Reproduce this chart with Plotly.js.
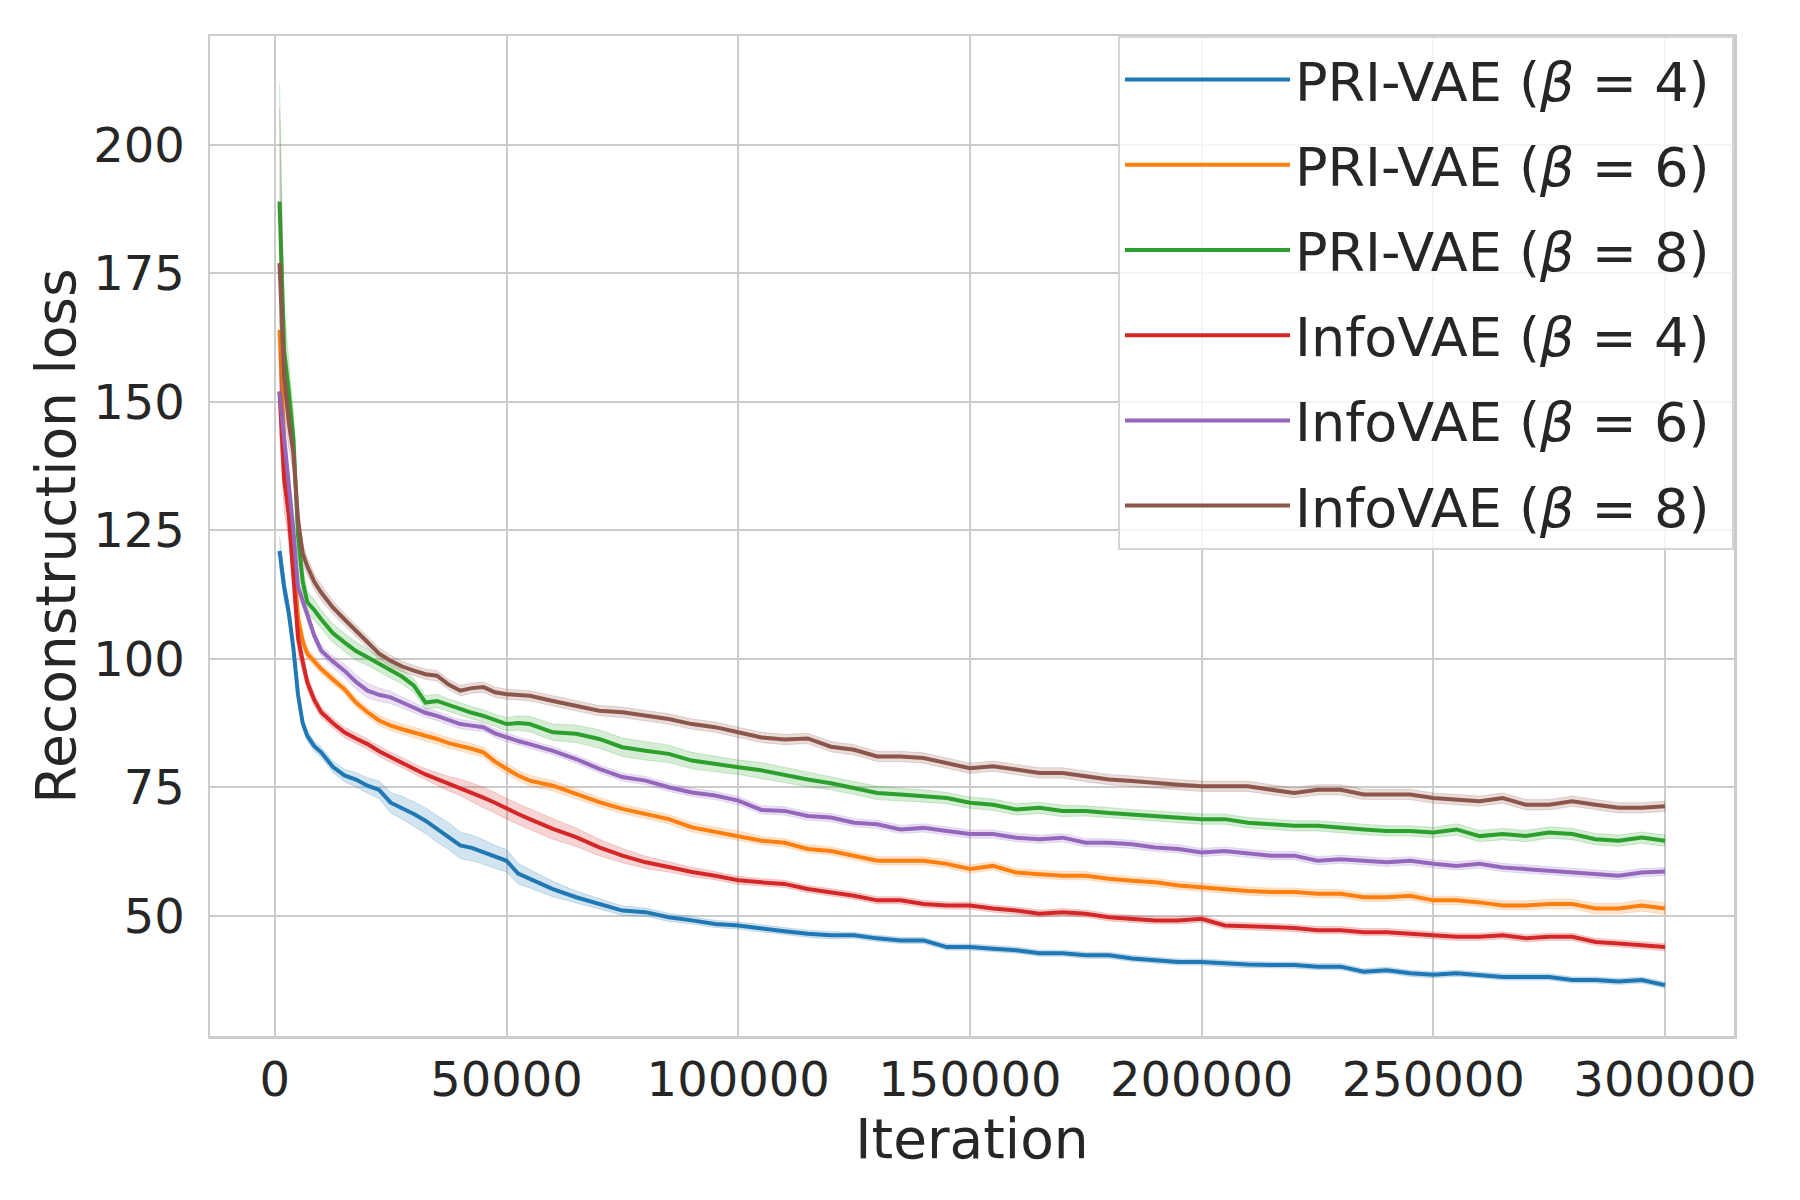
<!DOCTYPE html>
<html>
<head>
<meta charset="utf-8">
<script src="https://cdn.plot.ly/plotly-3.0.1.min.js"></script>
<style>
  html, body { margin: 0; padding: 0; background: #ffffff; }
  #chart { width: 1800px; height: 1200px; }
</style>
</head>
<body>
<div id="chart"></div>
<script>
// Iterations (x values)
const iterations = [1000, 2000, 3000, 4000, 5000, 6000, 7000, 8500, 10000, 12500, 15000, 17500, 20000, 22500, 25000, 27500, 30000, 32500, 35000, 37500, 40000, 42500, 45000, 47500, 50000, 52500,
  55000, 60000, 65000, 70000, 75000, 80000, 85000, 90000, 95000, 100000,
  105000, 110000, 115000, 120000, 125000, 130000, 135000, 140000, 145000, 150000,
  155000, 160000, 165000, 170000, 175000, 180000, 185000, 190000, 195000, 200000,
  205000, 210000, 215000, 220000, 225000, 230000, 235000, 240000, 245000, 250000,
  255000, 260000, 265000, 270000, 275000, 280000, 285000, 290000, 295000, 300000];

// Mean reconstruction loss per series
const priVae4 = [121, 114, 109, 102, 93, 87.5, 85, 83, 81.8, 79, 77.3, 76.5, 75.3, 74.5, 72, 71, 69.8, 68.5, 66.9, 65.5, 63.7, 63.2, 62.4, 61.5, 60.7, 58.2,
  57.2, 55.2, 53.6, 52.3, 51, 50.7, 49.7, 49.1, 48.4, 48.1,
  47.5, 47, 46.5, 46.2, 46.2, 45.6, 45.2, 45.2, 43.9, 43.9,
  43.6, 43.3, 42.7, 42.7, 42.3, 42.3, 41.7, 41.4, 41, 41,
  40.7, 40.5, 40.4, 40.4, 40.1, 40.1, 39.1, 39.4, 38.8, 38.5,
  38.8, 38.5, 38.1, 38.1, 38.1, 37.5, 37.5, 37.2, 37.5, 36.5];
const priVae6 = [164, 142, 132, 119, 108, 103.5, 101, 99.5, 98, 96, 94.1, 91.5, 89.6, 88, 87, 86.3, 85.7, 85, 84.4, 83.6, 83.1, 82.5, 81.8, 80, 78.6, 77.3,
  76.3, 75.3, 73.7, 72.1, 70.8, 69.8, 68.8, 67.2, 66.3, 65.6,
  64.6, 64.2, 63, 62.6, 61.7, 60.7, 60.7, 60.7, 60.1, 59.1,
  59.7, 58.4, 58.1, 57.8, 57.8, 57.2, 56.8, 56.5, 55.9, 55.5,
  55.2, 54.8, 54.6, 54.6, 54.3, 54.3, 53.6, 53.6, 53.9, 53,
  53, 52.6, 52, 52, 52.3, 52.3, 51.4, 51.4, 52, 51.4];
const priVae8 = [189, 160, 152, 143, 124, 115, 111, 109.5, 107.7, 105, 103.2, 101.5, 100.3, 99, 97.7, 96.5, 94.8, 91.5, 91.8, 91, 90.2, 89.5, 88.9, 88, 87.3, 87.5,
  87.3, 85.7, 85.4, 84.4, 82.8, 82.1, 81.5, 80.2, 79.5, 78.9,
  78.3, 77.4, 76.5, 75.8, 74.9, 73.9, 73.6, 73.3, 72.9, 72,
  71.6, 70.7, 71, 70.4, 70.4, 70, 69.7, 69.4, 69.1, 68.8,
  68.8, 68.1, 67.8, 67.5, 67.5, 67.1, 66.8, 66.5, 66.5, 66.2,
  66.8, 65.5, 65.9, 65.5, 66.2, 65.9, 64.9, 64.6, 65.2, 64.6];
const infoVae4 = [152, 135, 128, 117, 104, 99.5, 95.4, 92, 89.6, 87.5, 85.7, 84.5, 83.4, 82, 80.8, 79.8, 78.6, 77.5, 76.6, 75.7, 75, 74, 73, 72, 70.8, 69.8,
  68.8, 66.9, 65.3, 63.3, 61.7, 60.4, 59.5, 58.5, 57.8, 56.9,
  56.5, 56.2, 55.2, 54.6, 53.9, 53, 53, 52.3, 52, 52,
  51.4, 51, 50.4, 50.7, 50.4, 49.7, 49.4, 49.1, 49.1, 49.4,
  48.1, 48, 47.8, 47.6, 47.2, 47.2, 46.8, 46.8, 46.5, 46.2,
  45.9, 45.9, 46.2, 45.6, 45.9, 45.9, 44.9, 44.6, 44.3, 43.9];
const infoVae6 = [152, 143, 135, 125, 114, 111, 108.6, 104.5, 101.6, 99.5, 97.7, 95.5, 93.8, 93, 92.5, 91.5, 90.5, 89.5, 88.9, 88, 87.3, 87, 86.7, 85.5, 84.7, 84,
  83.4, 82.1, 80.5, 78.6, 77, 76.3, 75, 74, 73.4, 72.4,
  70.6, 70.4, 69.4, 69.1, 68.1, 67.8, 66.8, 67.1, 66.5, 65.9,
  65.9, 65.2, 64.9, 65.2, 64.2, 64.2, 63.9, 63.3, 63, 62.3,
  62.6, 62.1, 61.7, 61.7, 60.7, 61, 60.7, 60.4, 60.7, 60.1,
  59.7, 60.1, 59.4, 59.1, 58.8, 58.4, 58.1, 57.8, 58.4, 58.6];
const infoVae8 = [177, 155, 146, 140, 127, 120.5, 118, 115, 112.9, 110, 107.7, 105.5, 103.2, 101, 99.6, 98.5, 97.7, 97, 96.7, 95, 93.8, 94.3, 94.5, 93.5, 93.1, 93,
  92.8, 91.8, 90.9, 89.9, 89.6, 88.9, 88.3, 87.3, 86.7, 85.7,
  84.7, 84.3, 84.5, 82.9, 82.3, 81, 81, 80.7, 79.7, 78.7,
  79.1, 78.5, 77.8, 77.8, 77.1, 76.5, 76.2, 75.8, 75.5, 75.2,
  75.2, 75.2, 74.5, 73.9, 74.5, 74.5, 73.6, 73.6, 73.6, 72.9,
  72.6, 72.3, 72.9, 71.6, 71.6, 72.3, 71.6, 71, 71, 71.3];

// Half-width of the shaded band (spread across runs)
const priVae4Spread = [3, 2.5, 2, 1.5, 1.2, 1, 1, 1, 1, 1.1, 1.2, 1.4, 1.5, 1.7, 2, 2.2, 2.4, 2.5, 2.6, 2.6, 2.6, 2.5, 2.4, 2.2, 2.2, 2,
  1.8, 1.5, 1.2, 1, 0.9, 0.8, 0.8, 0.7, 0.7, 0.7,
  0.7, 0.7, 0.7, 0.7, 0.6, 0.6, 0.6, 0.6, 0.6, 0.6,
  0.6, 0.6, 0.6, 0.6, 0.6, 0.6, 0.6, 0.6, 0.6, 0.6,
  0.6, 0.6, 0.6, 0.6, 0.6, 0.6, 0.6, 0.6, 0.6, 0.6,
  0.6, 0.6, 0.6, 0.6, 0.6, 0.6, 0.6, 0.6, 0.6, 0.6];
const priVae6Spread = [4, 3, 2.5, 2, 1.5, 1.2, 1, 1, 0.9, 0.9, 0.9, 0.9, 0.9, 1, 1, 1, 1, 1, 1, 1, 1, 1, 1, 1, 1, 1,
  1, 1, 1, 0.9, 0.9, 0.9, 0.9, 0.9, 0.9, 0.9,
  0.8, 0.8, 0.8, 0.8, 0.8, 0.8, 0.8, 0.8, 0.8, 0.8,
  0.8, 0.8, 0.8, 0.8, 0.8, 0.8, 0.8, 0.8, 0.8, 0.8,
  0.8, 0.8, 0.8, 0.8, 0.8, 0.8, 0.8, 0.8, 0.8, 0.8,
  0.8, 0.8, 0.9, 0.9, 0.9, 0.9, 1, 1, 1.1, 1.1];
const priVae8Spread = [23, 9, 6, 5, 4, 3, 2.2, 2, 1.8, 1.8, 1.8, 1.8, 1.6, 1.5, 1.5, 1.4, 1.3, 1.3, 1.3, 1.2, 1.2, 1.2, 1.2, 1.2, 1.3, 1.4,
  1.5, 1.6, 1.7, 1.8, 1.8, 1.8, 1.7, 1.6, 1.5, 1.4,
  1.5, 1.5, 1.4, 1.3, 1.3, 1.3, 1.2, 1.2, 1.1, 1.1,
  1.1, 1.1, 1.1, 1.1, 1, 1, 1, 1, 1, 1,
  1, 1, 1, 1, 1, 1, 1, 1, 1, 1,
  1.1, 1.1, 1.1, 1.1, 1.1, 1.1, 1.1, 1.1, 1.1, 1.1];
const infoVae4Spread = [8, 6, 5, 4, 3, 2, 1.5, 1.2, 1, 1, 1, 1, 1, 1, 1, 1, 1, 1.1, 1.2, 1.4, 1.6, 1.8, 2, 2, 2, 2,
  2, 2, 1.8, 1.6, 1.4, 1.2, 1, 0.9, 0.8, 0.8,
  0.7, 0.7, 0.7, 0.7, 0.7, 0.7, 0.7, 0.7, 0.7, 0.7,
  0.7, 0.7, 0.7, 0.7, 0.7, 0.7, 0.7, 0.7, 0.7, 0.7,
  0.7, 0.7, 0.7, 0.7, 0.7, 0.7, 0.7, 0.7, 0.7, 0.7,
  0.7, 0.7, 0.7, 0.7, 0.7, 0.7, 0.7, 0.7, 0.7, 0.7];
const infoVae6Spread = [4, 3, 2.5, 2, 1.5, 1.2, 1.1, 1, 1, 1.1, 1.3, 1.4, 1.4, 1.3, 1.2, 1, 1, 0.9, 0.9, 0.9, 0.9, 0.9, 0.8, 0.8, 0.8, 0.8,
  0.8, 0.8, 0.8, 0.8, 0.8, 0.8, 0.8, 0.8, 0.8, 0.8,
  0.8, 0.8, 0.8, 0.8, 0.8, 0.8, 0.8, 0.8, 0.8, 0.8,
  0.8, 0.8, 0.8, 0.8, 0.8, 0.8, 0.8, 0.8, 0.8, 0.8,
  0.8, 0.8, 0.8, 0.8, 0.8, 0.8, 0.8, 0.8, 0.8, 0.8,
  0.8, 0.8, 0.8, 0.8, 0.8, 0.8, 0.8, 0.8, 0.8, 0.8];
const infoVae8Spread = [30, 7, 5, 4, 3, 2, 1.6, 1.5, 1.5, 1.3, 1.2, 1.2, 1.1, 1.1, 1.1, 1, 1, 1, 1, 1, 1, 1, 1, 1, 1, 1,
  1, 1, 1, 1, 1, 1, 1, 1, 1, 1,
  1, 1, 1, 1, 1, 1, 1, 1, 1, 1,
  1, 1, 1, 1, 1, 1, 1, 1, 1, 1,
  1, 1, 1, 1, 1, 1, 1, 1, 1, 1,
  1, 1, 1, 1, 1, 1, 1, 1, 1, 1];

const seriesNames = ['PRI-VAE (<i>β</i> = 4)\u00a0', 'PRI-VAE (<i>β</i> = 6)\u00a0', 'PRI-VAE (<i>β</i> = 8)\u00a0',
                     'InfoVAE (<i>β</i> = 4)\u00a0', 'InfoVAE (<i>β</i> = 6)\u00a0', 'InfoVAE (<i>β</i> = 8)\u00a0'];
const seriesValues = [priVae4, priVae6, priVae8, infoVae4, infoVae6, infoVae8];
const seriesSpreads = [priVae4Spread, priVae6Spread, priVae8Spread, infoVae4Spread, infoVae6Spread, infoVae8Spread];
const xTicks = [0, 50000, 100000, 150000, 200000, 250000, 300000];
const yTicks = [50, 75, 100, 125, 150, 175, 200];

const colors = ['#1f77b4', '#ff7f0e', '#2ca02c', '#d62728', '#9467bd', '#8c564b'];
const fills = ['rgba(31,119,180,0.2)', 'rgba(255,127,14,0.2)', 'rgba(44,160,44,0.2)',
               'rgba(214,39,40,0.2)', 'rgba(148,103,189,0.2)', 'rgba(140,86,75,0.2)'];

const traces = [];
seriesValues.forEach((vals, i) => {
  const spread = seriesSpreads[i];
  const upper = vals.map((v, k) => v + spread[k]);
  const lower = vals.map((v, k) => v - spread[k]);
  traces.push({
    x: iterations.concat(iterations.slice().reverse()),
    y: upper.concat(lower.slice().reverse()),
    type: 'scatter', mode: 'lines', fill: 'toself',
    fillcolor: fills[i], line: {width: 1, color: fills[i]},
    legendgroup: 'g' + i, showlegend: false, hoverinfo: 'skip'
  });
  traces.push({
    x: iterations, y: vals, type: 'scatter', mode: 'lines',
    name: seriesNames[i], legendgroup: 'g' + i,
    line: {color: colors[i], width: 4}
  });
});

const fontFamily = 'DejaVu Sans, Liberation Sans, sans-serif';
const layout = {
  width: 1800, height: 1200,
  paper_bgcolor: '#ffffff', plot_bgcolor: '#ffffff',
  margin: {l: 210, r: 66, t: 36, b: 164, pad: 0},
  font: {family: fontFamily, color: '#262626', size: 48},
  showlegend: true,
  legend: {
    x: 1, xanchor: 'right', y: 1, yanchor: 'top',
    bgcolor: 'rgba(255,255,255,0.8)', bordercolor: '#d5d5d5', borderwidth: 2,
    font: {family: fontFamily, size: 54, color: '#262626'},
    tracegroupgap: 12, itemwidth: 165
  },
  xaxis: {
    range: [-14000, 314900],
    tickvals: xTicks, tickformat: 'd',
    showgrid: true, gridcolor: '#cccccc', gridwidth: 2,
    zeroline: false, showline: true, mirror: true, linecolor: '#cccccc', linewidth: 2.5,
    ticks: '', ticklabelstandoff: 0,
    tickfont: {family: fontFamily, size: 48, color: '#262626'},
    title: {text: 'Iteration', font: {family: fontFamily, size: 55, color: '#262626'}, standoff: 2}
  },
  yaxis: {
    range: [26.6, 221.2],
    tickvals: yTicks,
    showgrid: true, gridcolor: '#cccccc', gridwidth: 2,
    zeroline: false, showline: true, mirror: true, linecolor: '#cccccc', linewidth: 2.5,
    ticks: '', ticklabelstandoff: 13,
    tickfont: {family: fontFamily, size: 48, color: '#262626'},
    title: {text: 'Reconstruction loss', font: {family: fontFamily, size: 55, color: '#262626'}, standoff: 0}
  }
};

Plotly.newPlot('chart', traces, layout, {staticPlot: true, displayModeBar: false});
</script>
</body>
</html>
